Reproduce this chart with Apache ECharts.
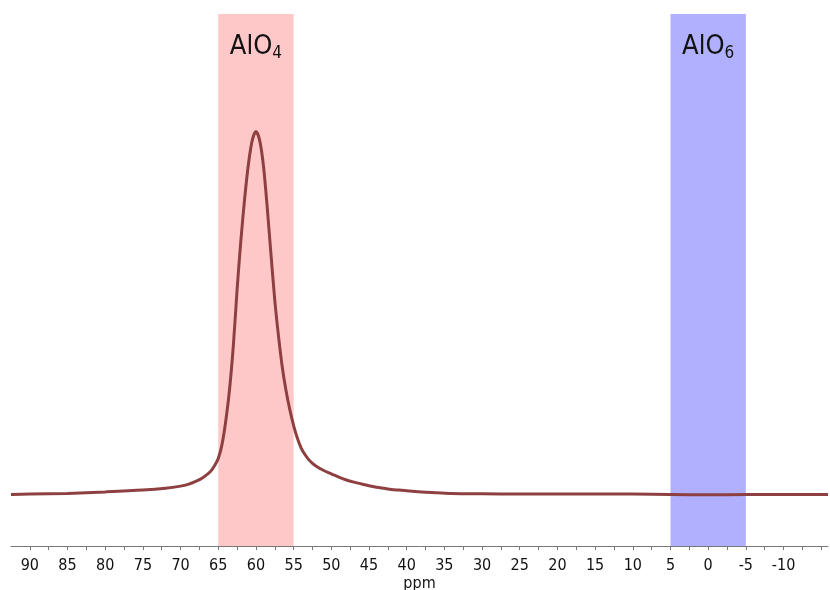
<!DOCTYPE html>
<html>
<head>
<meta charset="utf-8">
<script src="https://cdn.jsdelivr.net/npm/echarts@6/dist/echarts.min.js"></script>
<style>
  html, body { margin: 0; padding: 0; background: #fff; }
  #chart { width: 830px; height: 590px; }
</style>
</head>
<body>
<div id="chart"></div>
<script>
// chemical shift (ppm) and normalised intensity
var ppm = [92.5, 90, 85, 80, 75, 72, 70, 69, 68, 67, 66, 65.5,
  65, 64.5, 64, 63.5, 63, 62.5, 62, 61.5, 61, 60.5, 60, 59.5, 59, 58.5, 58, 57.5, 57, 56.5, 56, 55.5, 55,
  54.5, 54, 53.5, 53, 52.5, 52, 51, 50, 49, 48, 47, 46, 45, 44, 43, 42, 41, 40, 38, 36, 34,
  30, 25, 20, 15, 10, 5, 0, -5, -10, -15.9];
var intensity = [0.0, 0.001, 0.003, 0.007, 0.012, 0.017, 0.023, 0.028, 0.036, 0.047, 0.064, 0.079,
  0.099, 0.138, 0.203, 0.29, 0.41, 0.565, 0.70, 0.815, 0.91, 0.975, 1.0, 0.975, 0.905, 0.79, 0.66, 0.535, 0.435, 0.35, 0.285, 0.233, 0.19,
  0.155, 0.128, 0.11, 0.096, 0.086, 0.078, 0.066, 0.057, 0.048, 0.040, 0.034, 0.029, 0.024, 0.020, 0.017, 0.014, 0.012, 0.010, 0.007, 0.005, 0.003,
  0.002, 0.001, 0.001, 0.001, 0.001, 0.0, -0.001, 0.0, 0.0, 0.0];

var tickLabels = [90, 85, 80, 75, 70, 65, 60, 55, 50, 45, 40, 35, 30, 25, 20, 15, 10, 5, 0, -5, -10];
var tickMarks = [90, 87.5, 85, 82.5, 80, 77.5, 75, 72.5, 70, 67.5, 65, 62.5, 60, 57.5, 55, 52.5, 50, 47.5, 45, 42.5,
  40, 37.5, 35, 32.5, 30, 27.5, 25, 22.5, 20, 17.5, 15, 12.5, 10, 7.5, 5, 2.5, 0, -2.5, -5, -7.5, -10, -12.5, -15];

// shaded regions
var bands = [
  { name: "AlO", sub: "4", from: 65, to: 55, color: "#ffc8c8" },
  { name: "AlO", sub: "6", from: 5, to: -5, color: "#b0b0ff" }
];

var points = ppm.map(function (p, i) { return [p, intensity[i]]; });

var chart = echarts.init(document.getElementById("chart"));
chart.setOption({
  animation: false,
  grid: { left: 11, right: 2, top: 14, bottom: 44, outerBoundsMode: "none" },
  xAxis: {
    type: "value",
    inverse: true,
    min: -15.9,
    max: 92.5,
    name: "ppm",
    nameLocation: "middle",
    nameGap: 30,
    nameMoveOverlap: false,
    nameTextStyle: { fontFamily: "DejaVu Sans Condensed", fontSize: 16, color: "#111" },
    splitLine: { show: false },
    axisLine: { onZero: false, lineStyle: { color: "#777", width: 1 } },
    axisTick: { customValues: tickMarks, length: 4, lineStyle: { color: "#777" } },
    axisLabel: {
      customValues: tickLabels,
      margin: 12,
      fontFamily: "DejaVu Sans Condensed",
      fontSize: 16,
      color: "#111"
    }
  },
  yAxis: { type: "value", show: false, min: -0.142, max: 1.324 },
  series: [
    {
      type: "line",
      data: points,
      smooth: 0.3,
      symbol: "none",
      z: 3,
      lineStyle: { color: "#8e4040", width: 3 },
      markArea: {
        silent: true,
        data: bands.map(function (b) {
          return [
            {
              xAxis: b.from,
              itemStyle: { color: b.color },
              label: {
                show: true,
                position: "insideTop",
                distance: 18,
                formatter: "{a|" + b.name + "}{s|" + b.sub + "}",
                rich: {
                  a: { fontFamily: "DejaVu Sans Condensed", fontSize: 27, lineHeight: 30, color: "#111" },
                  s: { fontFamily: "DejaVu Sans Condensed", fontSize: 17, lineHeight: 17, padding: [13, 0, 0, 0], color: "#111" }
                }
              }
            },
            { xAxis: b.to }
          ];
        })
      }
    }
  ]
});
</script>
</body>
</html>
